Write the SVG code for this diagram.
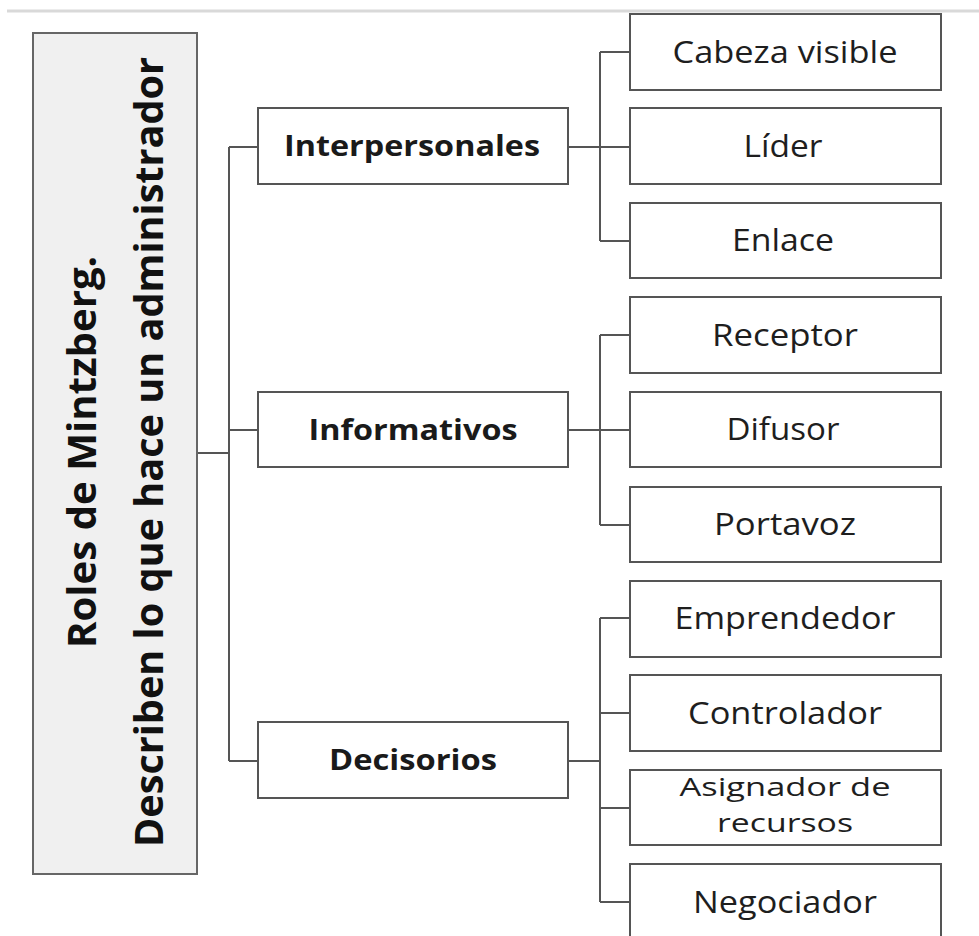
<svg xmlns="http://www.w3.org/2000/svg" width="979" height="936" viewBox="0 0 979 936">
  <style>
    .box { fill: #ffffff; stroke: #555555; stroke-width: 2; }
    .main { fill: #f0f0f0; stroke: #666666; stroke-width: 2; }
    .t { font-family: "Open Sans", "Noto Sans", "Liberation Sans", sans-serif; font-size: 31px; fill: #1e1e1e; text-anchor: middle; }
    .t2 { font-family: "Open Sans", "Noto Sans", "Liberation Sans", sans-serif; font-size: 26px; fill: #1e1e1e; text-anchor: middle; }
    .b { font-family: "Open Sans", "Noto Sans", "Liberation Sans", sans-serif; font-size: 29px; font-weight: bold; fill: #1a1a1a; text-anchor: middle; }
    .r { font-family: "Open Sans", "Noto Sans", "Liberation Sans", sans-serif; font-size: 40px; font-weight: bold; fill: #111111; text-anchor: middle; }
    .c { fill: none; stroke: #555555; stroke-width: 2; }
  </style>
  <rect width="979" height="936" fill="#ffffff"/>
  <line x1="7" y1="11" x2="979" y2="11" stroke="#d9d9d9" stroke-width="3"/>

  <g id="connectors">
    <path class="c" d="M197,453 H229 M229,147 V761 M229,147 H258 M229,430 H258 M229,761 H258"/>
    <path class="c" d="M568,147 H630 M600,52 V241 M600,52 H630 M600,241 H630"/>
    <path class="c" d="M568,430 H630 M600,335 V525 M600,335 H630 M600,525 H630"/>
    <path class="c" d="M568,761 H600 M600,618 V902 M600,618 H630 M600,713 H630 M600,808 H630 M600,902 H630"/>
  </g>

  <g id="root">
    <rect class="main" x="33" y="33" width="164" height="841"/>
    <text class="r" transform="translate(96,452) rotate(-90)" textLength="392" lengthAdjust="spacingAndGlyphs">Roles de Mintzberg.</text>
    <text class="r" transform="translate(163,452) rotate(-90)" textLength="790" lengthAdjust="spacingAndGlyphs">Describen lo que hace un administrador</text>
  </g>

  <g id="interpersonales">
    <rect class="box" x="258" y="108" width="310" height="76"/>
    <text class="b" x="412" y="156" textLength="256" lengthAdjust="spacingAndGlyphs">Interpersonales</text>
  </g>
  <g id="informativos">
    <rect class="box" x="258" y="392" width="310" height="75"/>
    <text class="b" x="413" y="440" textLength="209" lengthAdjust="spacingAndGlyphs">Informativos</text>
  </g>
  <g id="decisorios">
    <rect class="box" x="258" y="722" width="310" height="76"/>
    <text class="b" x="413" y="770" textLength="168" lengthAdjust="spacingAndGlyphs">Decisorios</text>
  </g>

  <g id="cabeza-visible">
    <rect class="box" x="630" y="14" width="311" height="76"/>
    <text class="t" x="785" y="63" textLength="225" lengthAdjust="spacingAndGlyphs">Cabeza visible</text>
  </g>
  <g id="lider">
    <rect class="box" x="630" y="108" width="311" height="76"/>
    <text class="t" x="783" y="157" textLength="79" lengthAdjust="spacingAndGlyphs">Líder</text>
  </g>
  <g id="enlace">
    <rect class="box" x="630" y="203" width="311" height="75"/>
    <text class="t" x="783" y="251" textLength="102" lengthAdjust="spacingAndGlyphs">Enlace</text>
  </g>
  <g id="receptor">
    <rect class="box" x="630" y="297" width="311" height="76"/>
    <text class="t" x="785" y="346" textLength="146" lengthAdjust="spacingAndGlyphs">Receptor</text>
  </g>
  <g id="difusor">
    <rect class="box" x="630" y="392" width="311" height="75"/>
    <text class="t" x="783" y="440" textLength="113" lengthAdjust="spacingAndGlyphs">Difusor</text>
  </g>
  <g id="portavoz">
    <rect class="box" x="630" y="487" width="311" height="75"/>
    <text class="t" x="785" y="535" textLength="142" lengthAdjust="spacingAndGlyphs">Portavoz</text>
  </g>
  <g id="emprendedor">
    <rect class="box" x="630" y="581" width="311" height="76"/>
    <text class="t" x="785" y="629" textLength="221" lengthAdjust="spacingAndGlyphs">Emprendedor</text>
  </g>
  <g id="controlador">
    <rect class="box" x="630" y="675" width="311" height="76"/>
    <text class="t" x="785" y="724" textLength="194" lengthAdjust="spacingAndGlyphs">Controlador</text>
  </g>
  <g id="asignador">
    <rect class="box" x="630" y="770" width="311" height="75"/>
    <text class="t2" x="785" y="796" textLength="211" lengthAdjust="spacingAndGlyphs">Asignador de</text>
    <text class="t2" x="785" y="832" textLength="136" lengthAdjust="spacingAndGlyphs">recursos</text>
  </g>
  <g id="negociador">
    <rect class="box" x="630" y="864" width="311" height="76"/>
    <text class="t" x="785" y="913" textLength="184" lengthAdjust="spacingAndGlyphs">Negociador</text>
  </g>
</svg>
